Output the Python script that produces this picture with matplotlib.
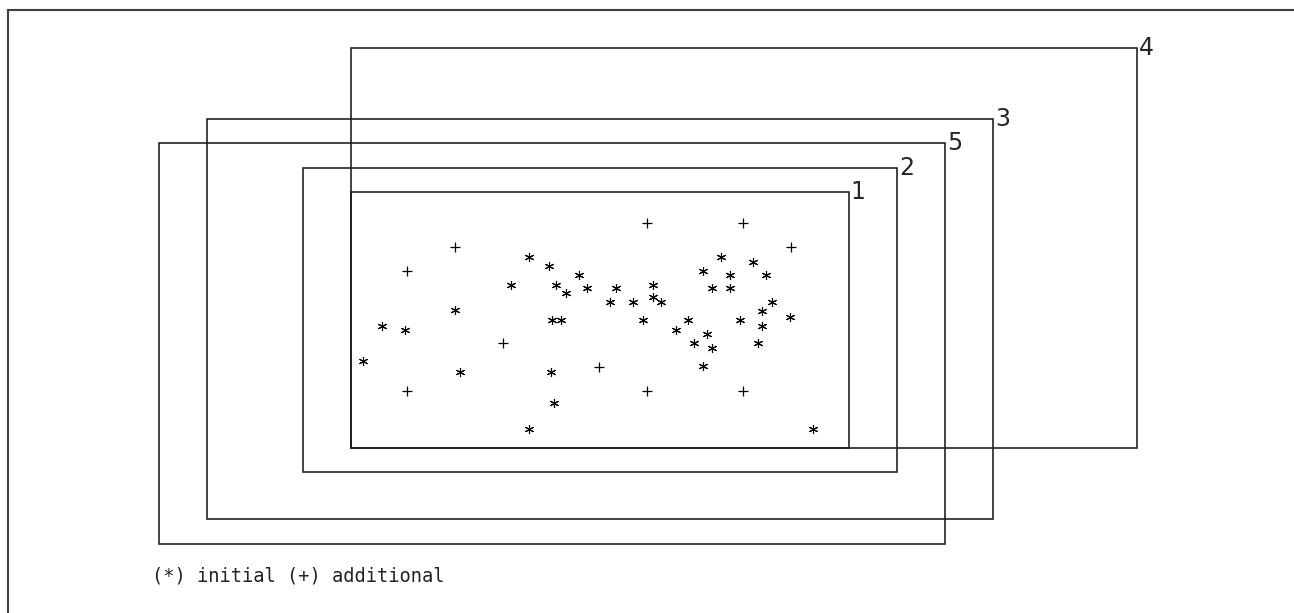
import matplotlib
matplotlib.use("Agg")
import matplotlib.pyplot as plt
from matplotlib.patches import Rectangle

# design regions (numbered boxes)
region_names = ['1', '2', '3', '4', '5']
region_x_lo = [-0.17, -1.17, -3.17, -0.17, -4.17]
region_x_hi = [10.21, 11.21, 13.21, 16.21, 12.21]
region_y_lo = [-0.38, -1.38, -3.35, -0.38, -4.38]
region_y_hi = [10.29, 11.31, 13.35, 16.31, 12.35]

# initial runs (*)
init_x = [3.54, 3.96, 4.58, 3.16, 4.10, 4.31, 4.76, 2.01, 0.49, 0.97,
          4.02, 4.21, 0.09, 2.10, 4.00, 4.07, 3.54, 5.35, 6.12, 5.24,
          5.71, 6.12, 6.29, 5.92, 6.86, 6.60, 7.26, 6.98, 7.36, 7.17,
          7.54, 8.21, 7.17, 7.73, 8.49, 7.36, 7.73, 8.60, 8.40, 8.98,
          7.94, 8.40, 8.31, 9.45]
init_y = [7.57, 7.21, 6.82, 6.43, 6.43, 6.07, 6.28, 5.38, 4.71, 4.54,
          4.96, 4.96, 3.24, 2.80, 2.80, 1.51, 0.40, 6.28, 6.43, 5.70,
          5.70, 5.90, 5.70, 4.96, 4.96, 4.54, 4.36, 3.99, 3.78, 3.05,
          7.60, 7.39, 7.01, 6.82, 6.82, 6.28, 6.28, 5.70, 5.35, 5.10,
          4.96, 4.72, 3.99, 0.40]

# additional runs (+)
add_x = [1, 2, 3, 1, 5, 6, 8, 9, 6, 8]
add_y = [7, 8, 4, 2, 3, 9, 9, 8, 2, 2]

fig = plt.figure(figsize=(12.94, 6.13), dpi=100)
ax = fig.add_axes([8 / 1294, 0, 1 - 8 / 1294, 1 - 9.5 / 613])
ax.set_xlim(-7.31, 19.48)
ax.set_ylim(-7.25, 17.9)
ax.set_xticks([])
ax.set_yticks([])
ax.spines['right'].set_visible(False)
ax.spines['bottom'].set_visible(False)
for s in ['top', 'left']:
    ax.spines[s].set_color('#404040')
    ax.spines[s].set_linewidth(1.5)

for name, x0, x1, y0, y1 in zip(region_names, region_x_lo, region_x_hi,
                                region_y_lo, region_y_hi):
    ax.add_patch(Rectangle((x0, y0), x1 - x0, y1 - y0, fill=False,
                           edgecolor='#1a1a1a', linewidth=1.15))
    ax.text(x1 + 0.04, y1, name, ha='left', va='center', fontsize=17,
            family='DejaVu Sans', color='#262626')

ax.plot(init_x, init_y, linestyle='none', marker=(6, 2, 0), markersize=6.5,
        markeredgewidth=0.8, color='black')
ax.plot(add_x, add_y, linestyle='none', marker='+', markersize=6.5,
        markeredgewidth=0.9, color='black')

ax.text(-4.31, -5.69, '(*) initial (+) additional', ha='left', va='center',
        fontsize=13.5, family='DejaVu Sans Mono', color='#222222')

fig.savefig('out.png', dpi=100)
